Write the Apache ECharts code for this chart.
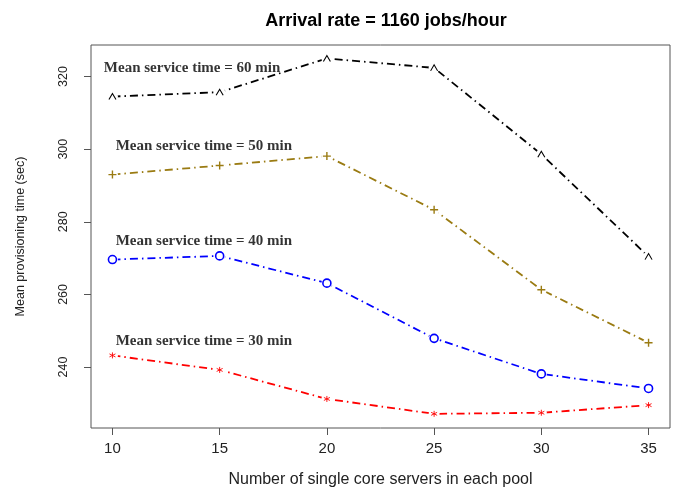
<!DOCTYPE html>
<html>
<head>
<meta charset="utf-8">
<style>
  html, body { margin: 0; padding: 0; background: #fff; }
  #chart { width: 680px; height: 493px; }
</style>
<script src="https://cdn.jsdelivr.net/npm/echarts@6/dist/echarts.min.js"></script>
</head>
<body>
<div id="chart"></div>
<script>
// Pool sizes (number of single core servers in each pool)
const servers = [10, 15, 20, 25, 30, 35];

// Mean provisioning time (sec) for each mean service time
const time60 = [314.5, 315.7, 325.0, 322.4, 298.6, 270.4];
const time50 = [293.0, 295.5, 298.1, 283.3, 261.3, 246.7];
const time40 = [269.6, 270.6, 263.1, 247.9, 238.1, 234.1];
const time30 = [243.2, 239.2, 231.2, 227.1, 227.4, 229.5];

// Tick values shown on the axes
const xTicks = [10, 15, 20, 25, 30, 35];
const yTicks = [240, 260, 280, 300, 320];

// Curve labels and where each one is anchored (data coordinates)
const curveLabels = ['Mean service time = 60 min', 'Mean service time = 50 min',
                     'Mean service time = 40 min', 'Mean service time = 30 min'];
const labelX = [9.6, 10.15, 10.15, 10.15];
const labelY = [322.4, 300.9, 274.7, 247.2];

const SYM_CARET = 'path://M0,9 L5,0 L10,9';
const SYM_PLUS = 'path://M5,0 L5,10 M0,5 L10,5';
const SYM_STAR = 'path://M5,0 L5,10 M0.7,2.5 L9.3,7.5 M0.7,7.5 L9.3,2.5';

const groups = [
  { values: time60, color: '#000000', symbol: SYM_CARET, size: [7, 6], fill: 'rgba(0,0,0,0)', bw: 1 },
  { values: time50, color: '#9a7b12', symbol: SYM_PLUS, size: 8, fill: 'rgba(0,0,0,0)', bw: 1.4 },
  { values: time40, color: '#0000ff', symbol: 'circle', size: 8, fill: '#ffffff', bw: 1.6 },
  { values: time30, color: '#ff0000', symbol: SYM_STAR, size: 6, fill: 'rgba(0,0,0,0)', bw: 0.9 }
];

const pairs = vals => servers.map((s, i) => [s, vals[i]]);

const series = [];
groups.forEach(g => {
  series.push({
    type: 'line',
    data: pairs(g.values),
    showSymbol: false,
    symbol: 'none',
    silent: true,
    z: 2,
    lineStyle: { color: g.color, width: 1.8, type: [8, 4, 1.5, 4] }
  });
  // white halo so the line stops short of each marker
  series.push({
    type: 'scatter',
    data: pairs(g.values),
    symbol: 'circle',
    symbolSize: 11,
    silent: true,
    z: 3,
    itemStyle: { color: '#ffffff', opacity: 1 }
  });
  series.push({
    type: 'scatter',
    data: pairs(g.values),
    symbol: g.symbol,
    symbolSize: g.size,
    symbolKeepAspect: false,
    silent: true,
    z: 4,
    itemStyle: { color: g.fill, borderColor: g.color, borderWidth: g.bw, opacity: 1 }
  });
});

series.push({
  type: 'scatter',
  data: labelX.map((x, i) => [x, labelY[i], curveLabels[i]]),
  symbolSize: 0,
  silent: true,
  z: 5,
  label: {
    show: true,
    position: 'right',
    distance: 0,
    formatter: p => p.data[2],
    fontFamily: '"Liberation Serif", "Times New Roman", serif',
    fontWeight: 'bold',
    fontSize: 15,
    color: '#000'
  }
});

const chart = echarts.init(document.getElementById('chart'), null, { renderer: 'canvas' });
chart.setOption({
  animation: false,
  backgroundColor: '#ffffff',
  title: {
    text: 'Arrival rate = 1160 jobs/hour',
    left: 381,
    top: 7,
    textAlign: 'center',
    textStyle: { fontFamily: '"Liberation Sans", Arial, sans-serif', fontWeight: 'bold', fontSize: 18, color: '#000' }
  },
  grid: {
    left: 91, top: 45, right: 10, bottom: 64,
    show: true, borderColor: '#555', borderWidth: 1, backgroundColor: 'transparent'
  },
  xAxis: {
    type: 'value',
    min: 9, max: 36,
    name: 'Number of single core servers in each pool',
    nameLocation: 'middle',
    nameGap: 44,
    nameTextStyle: { fontFamily: '"Liberation Sans", Arial, sans-serif', fontSize: 16, color: '#222' },
    axisLine: { show: false },
    splitLine: { show: false },
    axisTick: { show: true, customValues: xTicks, length: 7, lineStyle: { color: '#555' } },
    axisLabel: { customValues: xTicks, margin: 13, fontFamily: '"Liberation Sans", Arial, sans-serif', fontSize: 15, color: '#222' }
  },
  yAxis: {
    type: 'value',
    min: 223.2, max: 328.7,
    name: 'Mean provisioning time (sec)',
    nameLocation: 'middle',
    nameGap: 64,
    nameRotate: 90,
    nameTextStyle: { fontFamily: '"Liberation Sans", Arial, sans-serif', fontSize: 12.5, color: '#222' },
    axisLine: { show: false },
    splitLine: { show: false },
    axisTick: { show: true, customValues: yTicks, length: 7, lineStyle: { color: '#555' } },
    axisLabel: { customValues: yTicks, rotate: 90, margin: 21, fontFamily: '"Liberation Sans", Arial, sans-serif', fontSize: 12.5, color: '#222' }
  },
  series: series
});
</script>
</body>
</html>
